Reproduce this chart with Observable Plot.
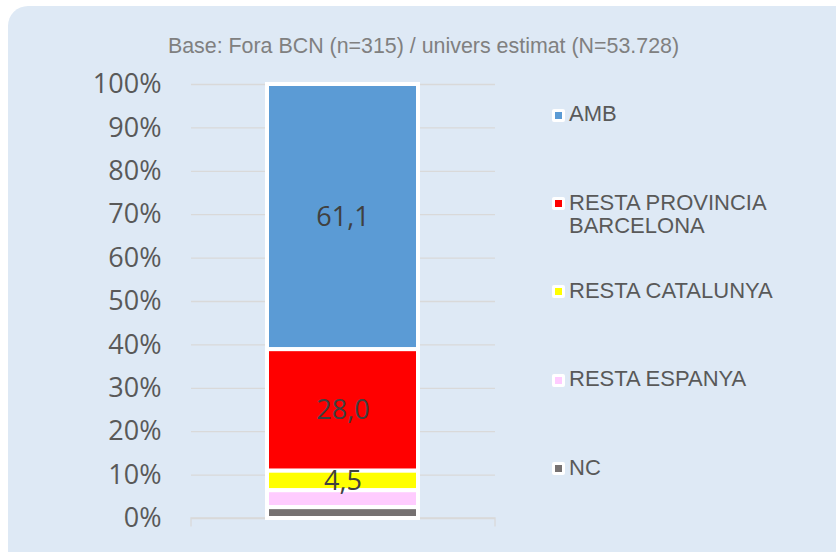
<!DOCTYPE html>
<html>
<head>
<meta charset="utf-8">
<script src="https://cdn.jsdelivr.net/npm/d3@7"></script>
<script src="https://cdn.jsdelivr.net/npm/@observablehq/plot@0.6"></script>
<style>
  html, body { margin: 0; padding: 0; background: #ffffff; }
  #wrap { position: relative; width: 836px; height: 552px; overflow: hidden; }
  #panel { position: absolute; left: 8px; top: 6px; width: 900px; height: 620px; border-radius: 20px; background: #dee9f5; }
  #title { position: absolute; left: 0; width: 847px; top: 36.2px; text-align: center; font: 21.4px "Liberation Sans", Arial, sans-serif; line-height: 21.4px; color: #808080; white-space: nowrap; }
  #chart { position: absolute; left: 0; top: 0; }
  .leg { position: absolute; font: 22px "Liberation Sans", Arial, sans-serif; line-height: 23.5px; color: #595959; }
  .mk { position: absolute; width: 7px; height: 7px; border: 3px solid #ffffff; border-radius: 2px; }
</style>
</head>
<body>
<div id="wrap">
  <div id="panel"></div>
  <div id="title"></div>
  <div id="chart"></div>
</div>
<script>
const title = "Base: Fora BCN (n=315) / univers estimat (N=53.728)";
const group = "Fora BCN";
const categories = ["AMB", "RESTA PROVINCIA BARCELONA", "RESTA CATALUNYA", "RESTA ESPANYA", "NC"];
const legendLabels = [["AMB"], ["RESTA PROVINCIA", "BARCELONA"], ["RESTA CATALUNYA"], ["RESTA ESPANYA"], ["NC"]];
const values = [61.1, 28.0, 4.5, 3.9, 2.5];
const valueLabels = ["61,1", "28,0", "4,5", "", ""];
const colors = ["#5b9bd5", "#ff0000", "#ffff00", "#ffccff", "#767171"];
const yTicks = [0, 10, 20, 30, 40, 50, 60, 70, 80, 90, 100];
const legendY = [114, 202.5, 290.5, 379, 467.5];

const data = categories.map((c, i) => ({group, cat: c, value: values[i], label: valueLabels[i]}));

document.getElementById("title").textContent = title;

const chart = Plot.plot({
  width: 836,
  height: 552,
  marginTop: 84,
  marginBottom: 34,
  marginLeft: 191,
  marginRight: 341,
  style: {background: "transparent", overflow: "visible"},
  x: {domain: [group], padding: 1/3, axis: null},
  y: {domain: [0, 100], axis: null},
  color: {domain: categories, range: colors},
  marks: [
    Plot.gridY(yTicks, {stroke: "#d9d9d9", strokeOpacity: 1, strokeWidth: 1.3}),
    Plot.axisY(yTicks, {
      tickSize: 0, tickPadding: 30, tickFormat: d => d + "%",
      fontSize: 27, fontFamily: "Open Sans", fill: "#595959", label: null
    }),
    (index, scales, values, dims) => {
      const x1 = dims.marginLeft, x2 = dims.width - dims.marginRight;
      const y0 = scales.y(0);
      const p = document.createElementNS("http://www.w3.org/2000/svg", "path");
      p.setAttribute("d", `M${x1},${y0 + 8.5}V${y0}H${x2}V${y0 + 8.5}`);
      p.setAttribute("fill", "none");
      p.setAttribute("stroke", "#d9d9d9");
      p.setAttribute("stroke-width", "1.3");
      return p;
    },
    Plot.barY(data, Plot.stackY({
      x: "group", y: "value", fill: "cat", reverse: true,
      stroke: "#ffffff", strokeWidth: 4
    })),
    Plot.text(data, Plot.stackY({
      x: "group", y: "value", text: "label", reverse: true,
      fontSize: 27, fontFamily: "Open Sans", fill: "#404040"
    }))
  ]
});
document.getElementById("chart").appendChild(chart);

const wrap = document.getElementById("wrap");
categories.forEach((c, i) => {
  const Y = legendY[i];
  const mk = document.createElement("div");
  mk.className = "mk";
  mk.style.left = "552px";
  mk.style.top = (Y - 5.5) + "px";
  mk.style.background = colors[i];
  wrap.appendChild(mk);
  const t = document.createElement("div");
  t.className = "leg";
  t.style.left = "569px";
  t.style.top = (Y - 12) + "px";
  t.innerHTML = legendLabels[i].join("<br>");
  wrap.appendChild(t);
});
</script>
</body>
</html>
